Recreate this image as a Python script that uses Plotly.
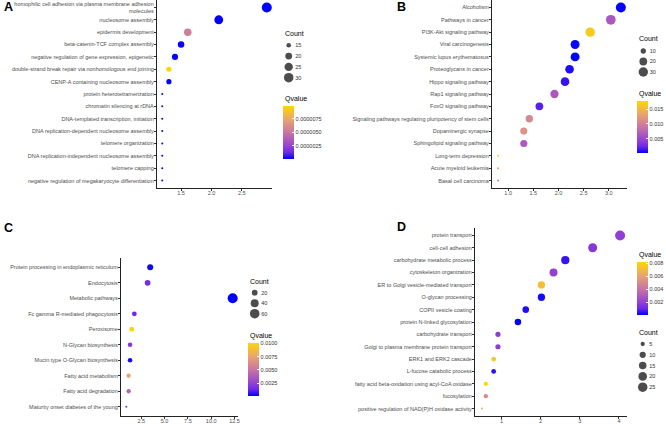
import numpy as np
import plotly.graph_objects as go

W, H = 666, 424
FONT = "Liberation Sans, Arial, sans-serif"
GREY = "#4D4D4D"

# blue -> purple -> gold ramp for Qvalue
QSCALE = [[0, "#0000FF"], [0.125, "#6F28E8"], [0.25, "#9743D2"],
          [0.5, "#C875A3"], [0.75, "#E8A66E"], [1, "#FFD700"]]

# ---- A: GO biological process
a_terms = ["homophilic cell adhesion via plasma membrane adhesion<br>molecules",
           "nucleosome assembly", "epidermis development",
           "beta-catenin-TCF complex assembly",
           "negative regulation of gene expression, epigenetic",
           "double-strand break repair via nonhomologous end joining",
           "CENP-A containing nucleosome assembly",
           "protein heterotetramerization", "chromatin silencing at rDNA",
           "DNA-templated transcription, initiation",
           "DNA replication-dependent nucleosome assembly",
           "telomere organization",
           "DNA replication-independent nucleosome assembly",
           "telomere capping",
           "negative regulation of megakaryocyte differentiation"]
a_ratio = [2.91, 2.12, 1.61, 1.50, 1.40, 1.30, 1.30, 1.19, 1.19, 1.19, 1.19, 1.19, 1.19, 1.19, 1.19]
a_count = [32, 27, 22, 19, 18, 16, 16, 13, 13, 13, 13, 13, 13, 13, 13]
a_qvalue = [3.1e-9, 1.2e-8, 5.4e-6, 4.6e-8, 7.2e-8, 9.9e-6, 5.0e-8, 1.1e-8,
            2.3e-8, 2.9e-8, 3.4e-8, 1.5e-8, 3.8e-8, 2.0e-8, 4.1e-8]
a_count_breaks = [15, 20, 25, 30]

# ---- B: KEGG pathways
b_terms = ["Alcoholism", "Pathways in cancer", "PI3K-Akt signaling pathway",
           "Viral carcinogenesis", "Systemic lupus erythematosus",
           "Proteoglycans in cancer", "Hippo signaling pathway",
           "Rap1 signaling pathway", "FoxO signaling pathway",
           "Signaling pathways regulating pluripotency of stem cells",
           "Dopaminergic synapse", "Sphingolipid signaling pathway",
           "Long-term depression", "Acute myeloid leukemia", "Basal cell carcinoma"]
b_ratio = [3.24, 3.04, 2.63, 2.33, 2.33, 2.22, 2.13, 1.92, 1.62, 1.42, 1.31, 1.31, 0.80, 0.80, 0.80]
b_count = [34, 32, 30, 27, 27, 25, 25, 23, 20, 18, 17, 17, 5, 5, 5]
b_qvalue = [0.0003, 0.0063, 0.0165, 0.0004, 0.0002, 0.0008, 0.0012, 0.0064,
            0.0019, 0.0107, 0.0116, 0.0065, 0.0177, 0.0125, 0.0092]
b_count_breaks = [10, 20, 30]

# ---- C: KEGG pathways
c_terms = ["Protein processing in endoplasmic reticulum", "Endocytosis",
           "Metabolic pathways", "Fc gamma R-mediated phagocytosis", "Peroxisome",
           "N-Glycan biosynthesis", "Mucin type O-Glycan biosynthesis",
           "Fatty acid metabolism", "Fatty acid degradation",
           "Maturity onset diabetes of the young"]
c_ratio = [3.46, 3.18, 12.3, 1.76, 1.48, 1.30, 1.30, 1.15, 1.15, 0.90]
c_count = [22, 20, 66, 14, 14, 13, 13, 12, 12, 7]
c_qvalue = [0.0002, 0.0015, 0.00005, 0.0013, 0.0101, 0.0020, 0.0003, 0.0076, 0.0041, 0.0017]
c_count_breaks = [20, 40, 60]

# ---- D: GO biological process
d_terms = ["protein transport", "cell-cell adhesion", "carbohydrate metabolic process",
           "cytoskeleton organization", "ER to Golgi vesicle-mediated transport",
           "O-glycan processing", "COPII vesicle coating",
           "protein N-linked glycosylation", "carbohydrate transport",
           "Golgi to plasma membrane protein transport", "ERK1 and ERK2 cascade",
           "L-fucose catabolic process",
           "fatty acid beta-oxidation using acyl-CoA oxidase", "fucosylation",
           "positive regulation of NAD(P)H oxidase activity"]
d_ratio = [4.03, 3.33, 2.63, 2.33, 2.02, 2.02, 1.62, 1.42, 0.91, 0.91, 0.80, 0.80, 0.60, 0.60, 0.50]
d_count = [28, 22, 18, 17, 14, 14, 11, 11, 7, 7, 6, 6, 5, 5, 3]
d_qvalue = [0.0019, 0.0016, 0.0005, 0.0019, 0.0072, 0.0002, 0.0003, 0.00001,
            0.0018, 0.0018, 0.0074, 0.0004, 0.0082, 0.0048, 0.0066]
d_count_breaks = [5, 10, 15, 20, 25]

# layout of each panel in pixels
panels = [
    dict(tag="A", terms=a_terms, x=a_ratio, count=a_count, q=a_qvalue, breaks=a_count_breaks,
         box=(157, 272, 0, 188), xdtick=0.5, xfmt=".1f", qdtick=2.5e-6, qfmt=".7f",
         leg=(288.7, 45.3, 10.8, 283, 33), bar=(283, 106, 159, 99), letter=(2, 7)),
    dict(tag="B", terms=b_terms, x=b_ratio, count=b_count, q=b_qvalue, breaks=b_count_breaks,
         box=(492, 627, 0, 188), xdtick=0.5, xfmt=".1f", qdtick=0.005, qfmt=".3f",
         leg=(643.3, 51, 10.5, 637, 38), bar=(637, 101, 153, 94), letter=(395, 7)),
    dict(tag="C", terms=c_terms, x=c_ratio, count=c_count, q=c_qvalue, breaks=c_count_breaks,
         box=(121, 238, 258, 416), xdtick=2.5, xfmt=".1f", qdtick=0.0025, qfmt=".4f",
         leg=(254.7, 292.7, 10.5, 248, 281), bar=(248, 343, 396, 336), letter=(2, 228)),
    dict(tag="D", terms=d_terms, x=d_ratio, count=d_count, q=d_qvalue, breaks=d_count_breaks,
         box=(475, 627, 228, 416), xdtick=1, xfmt="d", qdtick=0.002, qfmt=".3f",
         leg=(642.7, 344, 10.8, 637, 332), bar=(637, 262, 315, 255), letter=(395, 227)),
]


def px_x(v):
    return v / W


def px_y(v):
    return 1 - v / H


def dot_size(c, lo, hi):
    t = np.clip((np.asarray(c, dtype=float) - lo) / (hi - lo), 0, 1)
    return 2 + 8 * np.sqrt(t)


def sfx(k):
    return "" if k == 1 else str(k)


fig = go.Figure()
annotations = []

for i, p in enumerate(panels):
    k, lk = i + 1, i + 5
    lo_c, hi_c = min(p["count"]), max(p["count"])
    x0, x1, y0, y1 = p["box"]

    fig.add_trace(go.Scatter(
        x=p["x"], y=p["terms"], mode="markers",
        marker=dict(size=dot_size(p["count"], lo_c, hi_c), color=p["q"],
                    coloraxis="coloraxis" + sfx(k), line=dict(width=0), opacity=1),
        xaxis="x" + sfx(k), yaxis="y" + sfx(k), showlegend=False,
        customdata=p["count"],
        hovertemplate="%{y}<br>x=%{x}<br>Count=%{customdata}<br>Qvalue=%{marker.color}<extra></extra>",
    ))

    xmin, xmax = min(p["x"]), max(p["x"])
    pad = 0.05 * (xmax - xmin)
    n = len(p["terms"])
    fig.layout["xaxis" + sfx(k)] = dict(
        domain=[px_x(x0), px_x(x1)], anchor="y" + sfx(k),
        range=[xmin - pad, xmax + pad], tickmode="linear", tick0=0, dtick=p["xdtick"],
        tickformat=p["xfmt"], showline=True, linecolor="#222", linewidth=1.3,
        ticks="outside", ticklen=2, tickwidth=1, tickcolor="#333", ticklabelstandoff=-3,
        tickfont=dict(size=5.5, color=GREY), showgrid=False, zeroline=False,
        automargin=False)
    fig.layout["yaxis" + sfx(k)] = dict(
        domain=[px_y(y1), px_y(y0)], anchor="x" + sfx(k), type="category",
        categoryorder="array", categoryarray=p["terms"], range=[n - 0.4, -0.6],
        showline=True, linecolor="#222", linewidth=1.3,
        ticks="outside", ticklen=2, tickwidth=1, tickcolor="#333", ticklabelstandoff=-1,
        tickfont=dict(size=5.5, color=GREY), showgrid=False, zeroline=False,
        automargin=False)

    # Qvalue colour bar
    bx, btop, bbot, bt = p["bar"]
    fig.layout["coloraxis" + sfx(k)] = dict(
        colorscale=QSCALE,
        colorbar=dict(x=px_x(bx), xanchor="left", y=px_y(bbot), yanchor="bottom",
                      len=(bbot - btop) / H, lenmode="fraction", thickness=10.5,
                      xpad=0, ypad=0, outlinewidth=0, tickmode="linear", tick0=0,
                      dtick=p["qdtick"], tickformat=p["qfmt"], ticks="inside",
                      ticklen=2, tickwidth=0.8, tickcolor="white",
                      tickfont=dict(size=5.5, color="#333")))
    annotations.append(dict(text="Qvalue", x=px_x(bx), y=px_y(bt), xref="paper", yref="paper",
                            xanchor="left", yanchor="middle", showarrow=False,
                            font=dict(size=7, color="black")))

    # Count size legend, drawn on its own tiny axis
    cx, ly0, step, tx, ty = p["leg"]
    br = p["breaks"]
    db = br[1] - br[0]
    fig.add_trace(go.Scatter(
        x=[0] * len(br), y=br, mode="markers",
        marker=dict(size=dot_size(br, lo_c, hi_c), color="black", line=dict(width=0)),
        xaxis="x" + sfx(lk), yaxis="y" + sfx(lk), showlegend=False, hoverinfo="skip"))
    fig.layout["xaxis" + sfx(lk)] = dict(
        domain=[px_x(cx - 5.5), px_x(cx + 5.5)], anchor="y" + sfx(lk), range=[-1, 1],
        visible=False)
    fig.layout["yaxis" + sfx(lk)] = dict(
        domain=[px_y(ly0 + (len(br) - 0.5) * step), px_y(ly0 - step / 2)],
        anchor="x" + sfx(lk), side="right", range=[br[-1] + db / 2, br[0] - db / 2],
        tickvals=br, ticktext=[str(b) for b in br], ticks="", showline=False,
        showgrid=False, zeroline=False, tickfont=dict(size=5.5, color="#333"),
        automargin=False)
    annotations.append(dict(text="Count", x=px_x(tx), y=px_y(ty), xref="paper", yref="paper",
                            xanchor="left", yanchor="middle", showarrow=False,
                            font=dict(size=7, color="black")))

    lx, ly = p["letter"]
    annotations.append(dict(text="<b>" + p["tag"] + "</b>", x=px_x(lx), y=px_y(ly),
                            xref="paper", yref="paper", xanchor="left", yanchor="middle",
                            showarrow=False, font=dict(size=12.5, color="black")))

fig.update_layout(
    width=W, height=H, margin=dict(l=0, r=0, t=0, b=0),
    paper_bgcolor="white", plot_bgcolor="white",
    font=dict(family=FONT, color=GREY),
    annotations=annotations,
)

# the page body has a default 8px margin; drop it so the figure sits at the corner
fig.write_html("out.html", config={"displayModeBar": False},
               post_script="document.body.style.margin='0';")
